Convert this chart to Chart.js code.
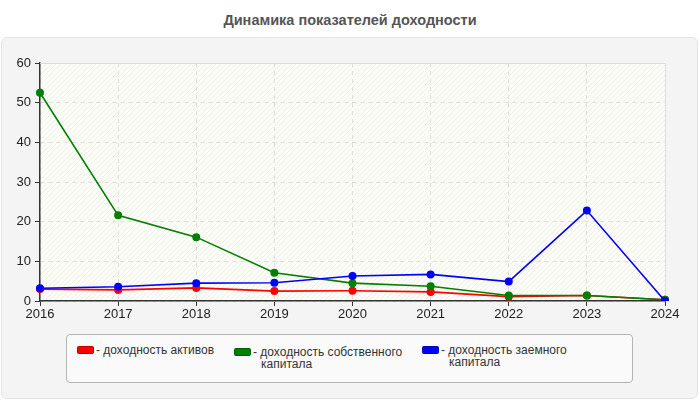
<!DOCTYPE html>
<html>
<head>
<meta charset="utf-8">
<script src="https://cdn.jsdelivr.net/npm/chart.js@4.4.1/dist/chart.umd.min.js"></script>
<style>
  html, body { margin: 0; padding: 0; background: #ffffff; }
  #wrap { position: relative; width: 700px; height: 400px; overflow: hidden; font-family: "Liberation Sans", Arial, sans-serif; }
  #title { position: absolute; left: 0; top: 12px; width: 700px; text-align: center; font-weight: bold; font-size: 14.5px; color: #555555; }
  #panel { position: absolute; left: 1px; top: 37px; width: 695px; height: 360px; background: #f4f4f4; border: 1px solid #e4e4e4; border-radius: 6px; }
  #chart { position: absolute; left: 0; top: 0; }
  #legend { position: absolute; left: 66px; top: 334px; width: 567px; height: 49px; background: #fafafa; border: 1px solid #b4b4b4; border-radius: 4px; box-sizing: border-box; }
  .item { position: absolute; top: 8px; font-size: 12px; color: #333; line-height: 12px; }
  .sw { position: absolute; top: 2px; left: 0; width: 15px; height: 6px; border-radius: 2px; border: 1px solid rgba(0,0,0,0.25); }
  .txt { position: absolute; left: 19px; top: 0; white-space: nowrap; }
  .txt span { display: block; padding-left: 8px; }
</style>
</head>
<body>
<div id="wrap">
  <div id="title">Динамика показателей доходности</div>
  <div id="panel"></div>
  <canvas id="chart" width="700" height="400"></canvas>
  <div id="legend"></div>
</div>
<script>
const categories = ["2016", "2017", "2018", "2019", "2020", "2021", "2022", "2023", "2024"];
const assetsReturn = [3.0, 2.8, 3.3, 2.5, 2.6, 2.3, 1.1, 1.4, 0.3];
const equityReturn = [52.5, 21.6, 16.1, 7.1, 4.5, 3.7, 1.4, 1.4, 0.3];
const debtReturn = [3.2, 3.6, 4.5, 4.6, 6.3, 6.7, 4.9, 22.8, 0.0];
const seriesNames = ["доходность активов", "доходность собственного капитала", "доходность заемного капитала"];
const seriesColors = ["#ff0000", "#008000", "#0000ff"];
const yTicks = [0, 10, 20, 30, 40, 50, 60];

// legend (HTML)
const legendLines = [["- доходность активов"], ["- доходность собственного", "капитала"], ["- доходность заемного", "капитала"]];
const legendX = [10, 167, 355];
const legendY = [9, 11, 9];
const legend = document.getElementById('legend');
legendLines.forEach((lines, i) => {
  const it = document.createElement('div');
  it.className = 'item';
  it.style.left = legendX[i] + 'px';
  it.style.top = legendY[i] + 'px';
  const sw = document.createElement('div');
  sw.className = 'sw';
  sw.style.background = seriesColors[i];
  it.appendChild(sw);
  const t = document.createElement('div');
  t.className = 'txt';
  t.appendChild(document.createTextNode(lines[0]));
  for (let k = 1; k < lines.length; k++) {
    const s = document.createElement('span');
    s.textContent = lines[k];
    t.appendChild(s);
  }
  it.appendChild(t);
  legend.appendChild(it);
});

// hatch pattern
function makePattern(ctx) {
  const c = document.createElement('canvas');
  c.width = 5; c.height = 5;
  const p = c.getContext('2d');
  p.fillStyle = '#fdfdf8';
  p.fillRect(0, 0, 5, 5);
  p.strokeStyle = '#eeeeea';
  p.lineWidth = 1;
  p.beginPath();
  p.moveTo(0, 5); p.lineTo(5, 0);
  p.moveTo(-1, 1); p.lineTo(1, -1);
  p.moveTo(4, 6); p.lineTo(6, 4);
  p.stroke();
  return ctx.createPattern(c, 'repeat');
}

const bgPlugin = {
  id: 'bgPlugin',
  beforeDraw(chart) {
    const { ctx, chartArea: a } = chart;
    ctx.save();
    ctx.fillStyle = makePattern(ctx);
    ctx.fillRect(a.left, a.top, a.right - a.left, a.bottom - a.top);
    ctx.restore();
  },
  beforeDatasetsDraw(chart) {
    const { ctx, chartArea: a } = chart;
    ctx.save();
    ctx.strokeStyle = '#dcdcdc';
    ctx.lineWidth = 1;
    ctx.beginPath();
    ctx.moveTo(a.left, Math.round(a.top) + 0.5);
    ctx.lineTo(Math.round(a.right) + 0.5, Math.round(a.top) + 0.5);
    ctx.lineTo(Math.round(a.right) + 0.5, a.bottom);
    ctx.stroke();
    ctx.restore();
  }
};

const data = [assetsReturn, equityReturn, debtReturn];
const orders = [2, 1, 0];
new Chart(document.getElementById('chart'), {
  type: 'line',
  data: {
    labels: categories,
    datasets: data.map((d, i) => ({
      label: seriesNames[i],
      data: d,
      borderColor: seriesColors[i],
      backgroundColor: seriesColors[i],
      pointBackgroundColor: seriesColors[i],
      pointBorderColor: seriesColors[i],
      borderWidth: 1.6,
      pointRadius: 3.2,
      pointHoverRadius: 3.2,
      tension: 0,
      fill: false,
      order: orders[i]
    }))
  },
  plugins: [bgPlugin],
  options: {
    responsive: false,
    animation: false,
    events: [],
    layout: { padding: { left: 0, top: 63, right: 35, bottom: 77 } },
    plugins: {
      legend: { display: false },
      title: { display: false },
      tooltip: { enabled: false }
    },
    scales: {
      x: {
        offset: false,
        afterFit: (s) => { s.height = 22; },
        grid: { color: '#dddddd', tickColor: '#333333', tickLength: 5, drawOnChartArea: true },
        border: { display: true, color: '#333333', width: 1.5, dash: [4, 4] },
        ticks: { color: '#222222', font: { family: 'Liberation Sans, Arial, sans-serif', size: 13 }, padding: 1, maxRotation: 0, autoSkip: false }
      },
      y: {
        min: 0,
        max: 60,
        afterFit: (s) => { s.width = 40; },
        afterBuildTicks: (s) => { s.ticks = yTicks.map(v => ({ value: v })); },
        grid: { color: '#dddddd', tickColor: '#333333', tickLength: 5 },
        border: { display: true, color: '#333333', width: 1.5, dash: [4, 4] },
        ticks: { color: '#222222', font: { family: 'Liberation Sans, Arial, sans-serif', size: 13 }, padding: 4 }
      }
    }
  }
});
</script>
</body>
</html>
